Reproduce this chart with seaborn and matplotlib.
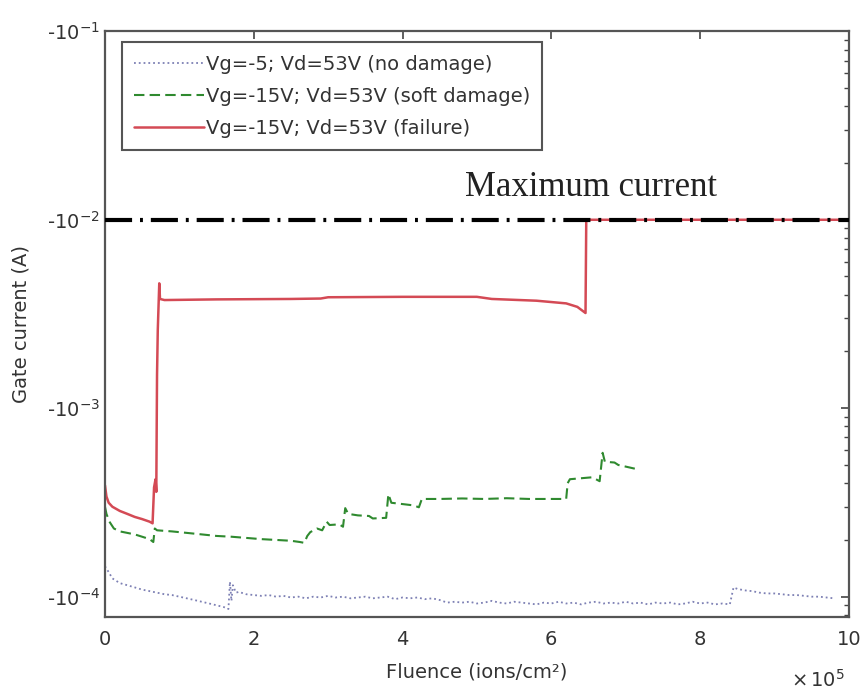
import numpy as np
import pandas as pd
import matplotlib
matplotlib.use("Agg")
import matplotlib.pyplot as plt
from matplotlib.ticker import FuncFormatter, LogLocator, NullFormatter, MultipleLocator
import seaborn as sns

# ---------------- data (fluence in ions/cm^2, |gate current| in A) ----------------
nd_x = [0.0, 0.05, 0.1, 0.2, 0.3, 0.4, 0.5, 0.6, 0.7, 0.8, 0.9, 1.0, 1.1, 1.2, 1.3, 1.4,
        1.5, 1.6, 1.66, 1.68, 1.70, 1.72, 1.76, 1.8, 1.9, 2.0, 2.1, 2.2, 2.3, 2.4, 2.5,
        2.6, 2.7, 2.8, 2.9, 3.0, 3.1, 3.2, 3.3, 3.4, 3.5, 3.6, 3.7, 3.8, 3.9, 4.0, 4.1,
        4.2, 4.3, 4.4, 4.5, 4.6, 4.7, 4.8, 4.9, 5.0, 5.1, 5.2, 5.3, 5.4, 5.5, 5.6, 5.7,
        5.8, 5.9, 6.0, 6.1, 6.2, 6.3, 6.4, 6.5, 6.6, 6.7, 6.8, 6.9, 7.0, 7.1, 7.2, 7.3,
        7.4, 7.5, 7.6, 7.7, 7.8, 7.9, 8.0, 8.1, 8.2, 8.3, 8.4, 8.45, 8.5, 8.6, 8.7, 8.8,
        8.9, 9.0, 9.1, 9.2, 9.3, 9.4, 9.5, 9.6, 9.7, 9.8]
nd_y = [1.45, 1.35, 1.25, 1.18, 1.15, 1.12, 1.09, 1.07, 1.05, 1.03, 1.02, 1.00, 0.98, 0.96, 0.94, 0.92,
        0.90, 0.88, 0.86, 1.20, 0.95, 1.15, 1.05, 1.06, 1.03, 1.02, 1.01, 1.02, 1.00, 1.01, 0.99,
        1.00, 0.98, 1.00, 0.99, 1.01, 0.99, 1.00, 0.98, 0.99, 1.00, 0.98, 0.99, 1.00, 0.97, 0.99, 0.98,
        0.99, 0.97, 0.98, 0.96, 0.93, 0.94, 0.93, 0.94, 0.92, 0.93, 0.95, 0.93, 0.92, 0.94, 0.93, 0.92,
        0.91, 0.93, 0.92, 0.94, 0.92, 0.93, 0.91, 0.93, 0.94, 0.92, 0.93, 0.92, 0.94, 0.92, 0.93, 0.91,
        0.93, 0.92, 0.93, 0.91, 0.92, 0.94, 0.92, 0.93, 0.91, 0.92, 0.91, 1.12, 1.10, 1.08, 1.07, 1.05,
        1.04, 1.04, 1.03, 1.02, 1.02, 1.01, 1.00, 1.00, 0.99, 0.98]
nd_x = [v * 1e5 for v in nd_x]
nd_y = [v * 1e-4 for v in nd_y]

sd_x = [0.0, 0.02, 0.06, 0.12, 0.2, 0.3, 0.4, 0.5, 0.6, 0.65, 0.67, 0.7, 0.9, 1.1, 1.3, 1.5,
        1.7, 1.9, 2.1, 2.3, 2.5, 2.62, 2.68, 2.72, 2.76, 2.85, 2.92, 2.98, 3.02, 3.15, 3.2,
        3.23, 3.27, 3.4, 3.55, 3.6, 3.78, 3.81, 3.85, 4.0, 4.15, 4.22, 4.26, 4.5, 4.8, 5.1,
        5.4, 5.7, 6.0, 6.2, 6.22, 6.25, 6.4, 6.55, 6.65, 6.69, 6.72, 6.85, 6.9, 7.0, 7.1, 7.15]
sd_y = [3.0, 2.75, 2.5, 2.3, 2.22, 2.18, 2.14, 2.08, 2.02, 1.95, 2.3, 2.25, 2.22, 2.18, 2.14, 2.1,
        2.08, 2.05, 2.02, 2.0, 1.98, 1.95, 1.93, 2.1, 2.2, 2.3, 2.25, 2.5, 2.4, 2.42, 2.35,
        2.95, 2.75, 2.7, 2.68, 2.6, 2.62, 3.5, 3.15, 3.1, 3.05, 2.98, 3.3, 3.3, 3.32, 3.3,
        3.33, 3.3, 3.3, 3.3, 4.0, 4.2, 4.25, 4.3, 4.1, 5.8, 5.2, 5.15, 5.0, 4.9, 4.8, 4.75]
sd_x = [v * 1e5 for v in sd_x]
sd_y = [v * 1e-4 for v in sd_y]

fl_x = [0.0, 0.02, 0.05, 0.1, 0.2, 0.3, 0.4, 0.5, 0.6, 0.64, 0.66, 0.68, 0.69, 0.70, 0.71,
        0.73, 0.74, 0.8, 1.5, 2.5, 2.9, 3.0, 4.0, 5.0, 5.2, 5.8, 6.2, 6.35, 6.46, 6.47, 10.0]
fl_y = [3.9e-4, 3.4e-4, 3.15e-4, 3.0e-4, 2.85e-4, 2.75e-4, 2.65e-4, 2.58e-4, 2.5e-4, 2.45e-4,
        3.8e-4, 4.2e-4, 3.6e-4, 1.5e-3, 2.6e-3, 4.6e-3, 3.8e-3, 3.75e-3, 3.78e-3, 3.8e-3,
        3.82e-3, 3.88e-3, 3.9e-3, 3.9e-3, 3.8e-3, 3.72e-3, 3.6e-3, 3.45e-3, 3.2e-3, 1e-2, 1e-2]
fl_x = [v * 1e5 for v in fl_x]

max_x = [0.0, 10.0e5]
max_y = [1e-2, 1e-2]

labels = ["Vg=-5; Vd=53V (no damage)",
          "Vg=-15V; Vd=53V (soft damage)",
          "Vg=-15V; Vd=53V (failure)"]

df_nd = pd.DataFrame({"x": nd_x, "y": nd_y})
df_sd = pd.DataFrame({"x": sd_x, "y": sd_y})
df_fl = pd.DataFrame({"x": fl_x, "y": fl_y})
df_max = pd.DataFrame({"x": max_x, "y": max_y})

# ---------------- style ----------------
sns.set_style("white")
plt.rcParams["font.family"] = ["DejaVu Sans"]
plt.rcParams["xtick.direction"] = "in"
plt.rcParams["ytick.direction"] = "in"

fig = plt.figure(figsize=(8.66, 6.96), dpi=100)
ax = fig.add_axes([0.1212, 0.1135, 0.859, 0.8415])

c_nd = "#7d80b4"
c_sd = "#2f8a2f"
c_fl = "#d44a55"

sns.lineplot(data=df_nd, x="x", y="y", ax=ax, color=c_nd, linestyle=":", linewidth=1.3,
             estimator=None, sort=False, label=labels[0])
sns.lineplot(data=df_sd, x="x", y="y", ax=ax, color=c_sd, linewidth=1.5,
             estimator=None, sort=False, label=labels[1])
ax.lines[-1].set_dashes((5, 2.5))
sns.lineplot(data=df_fl, x="x", y="y", ax=ax, color=c_fl, linewidth=1.8,
             estimator=None, sort=False, label=labels[2])
sns.lineplot(data=df_max, x="x", y="y", ax=ax, color="black", linewidth=3,
             estimator=None, sort=False)
ax.lines[-1].set_dashes((6.5, 1.9, 0.7, 1.9))
ax.lines[-1].set_zorder(5)

ax.set_yscale("log")
ax.set_xlim(0, 10e5)
ax.set_ylim(7.8e-5, 1e-1)

ax.yaxis.set_major_locator(LogLocator(base=10, numticks=10))
ax.yaxis.set_minor_locator(LogLocator(base=10, subs=np.arange(2, 10), numticks=20))
ax.yaxis.set_minor_formatter(NullFormatter())
ax.yaxis.set_major_formatter(FuncFormatter(lambda v, p: "-$10^{%d}$" % int(round(np.log10(v)))))

ax.xaxis.set_major_locator(MultipleLocator(2e5))
ax.xaxis.set_major_formatter(FuncFormatter(lambda v, p: "%g" % (v / 1e5)))

ax.tick_params(axis="both", which="both", direction="in", top=True, right=True,
               labelsize=14, labelcolor="#333333", color="#444444")
ax.tick_params(axis="both", which="major", length=6, width=1.2)
ax.tick_params(axis="x", which="major", pad=9)
ax.tick_params(axis="y", which="minor", length=3.5, width=1.0)

for s in ax.spines.values():
    s.set_color("#555555")
    s.set_linewidth(1.6)

ax.set_xlabel("Fluence (ions/cm²)", fontsize=14, color="#333333", labelpad=10)
ax.set_ylabel("Gate current (A)", fontsize=14, color="#333333", labelpad=12)

ax.text(0.995, -0.088, r"$\times\,10^{5}$", transform=ax.transAxes, fontsize=14,
        color="#333333", ha="right", va="top")

ax.text(0.484, 0.718, "Maximum current", transform=ax.transAxes, fontsize=25,
        family="Liberation Serif", color="#222222", ha="left", va="baseline")

leg = ax.legend(loc="upper left", bbox_to_anchor=(0.023, 0.981), fontsize=14,
                frameon=True, fancybox=False, framealpha=1, edgecolor="#555555",
                handlelength=3.6, handletextpad=0.1, borderpad=0.62, labelspacing=0.68,
                borderaxespad=0)
leg.get_frame().set_linewidth(1.5)
for t in leg.get_texts():
    t.set_color("#333333")

fig.savefig("out.png", dpi=100)
